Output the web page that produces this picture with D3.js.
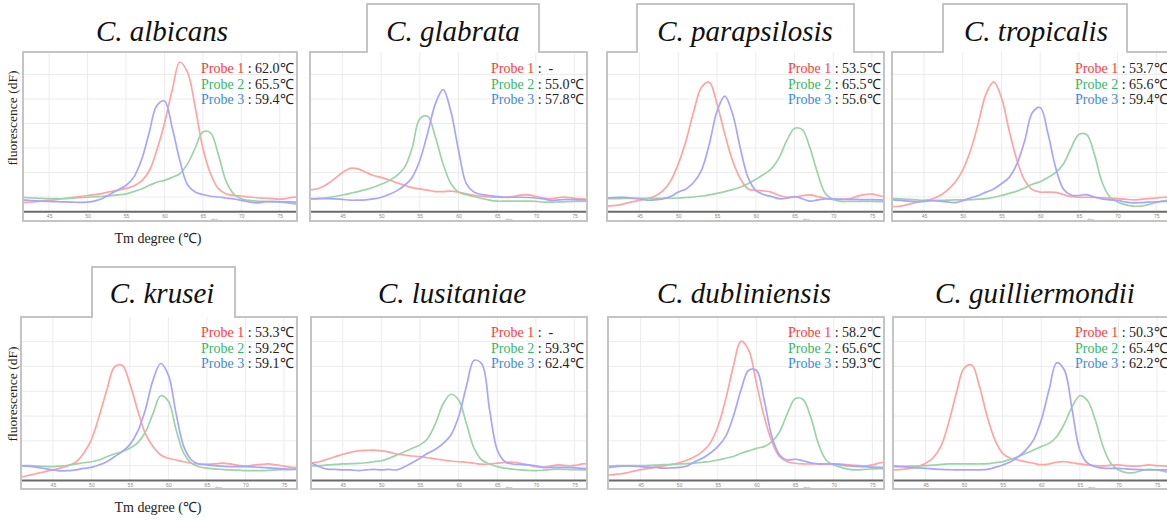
<!DOCTYPE html>
<html>
<head>
<meta charset="utf-8">
<script src="https://cdn.jsdelivr.net/npm/d3@7"></script>
<style>
  body { margin: 0; background: #fff; }
  svg { display: block; }
  text { font-family: 'Liberation Serif', 'Times New Roman', serif; }
</style>
</head>
<body>
<script>
'use strict'

const width = 1167
const height = 521

// melting temperature axis, one point per degree
const temps = [40, 41, 42, 43, 44, 45, 46, 47, 48, 49, 50, 51, 52, 53, 54, 55, 56, 57, 58, 59,
  60, 61, 62, 63, 64, 65, 66, 67, 68, 69, 70, 71, 72, 73, 74, 75, 76, 77, 78]
const xTicks = [45, 50, 55, 60, 65, 70, 75]
const yGrid = [1, 2, 3, 4, 5, 6]

const species = ['C. albicans', 'C. glabrata', 'C. parapsilosis', 'C. tropicalis',
  'C. krusei', 'C. lusitaniae', 'C. dubliniensis', 'C. guilliermondii']
const probeNames = ['Probe 1', 'Probe 2', 'Probe 3']
const probe1Tm = ['62.0', '-', '53.5', '53.7', '53.3', '-', '58.2', '50.3']
const probe2Tm = ['65.5', '55.0', '65.5', '65.6', '59.2', '59.3', '65.6', '65.4']
const probe3Tm = ['59.4', '57.8', '55.6', '59.4', '59.1', '62.4', '59.3', '62.2']

// -dF/dT melt curves
const albicansP1 = [0.76, 0.76, 0.78, 0.8, 0.83, 0.86, 0.9, 0.94, 0.98, 1.02, 1.06, 1.1, 1.15, 1.22, 1.28, 1.35, 1.45, 1.65, 2.05, 2.9, 4.0, 5.35, 6.5, 6.1, 4.67, 3.0, 1.95, 1.35, 1.13, 1.06, 1.04, 1.0, 0.97, 0.95, 0.93, 0.91, 0.95, 1.0, 1.02]
const albicansP2 = [0.99, 0.99, 0.98, 0.96, 0.94, 0.93, 0.93, 0.93, 0.95, 0.97, 0.99, 1.01, 1.03, 1.06, 1.09, 1.13, 1.22, 1.33, 1.47, 1.6, 1.68, 1.8, 1.95, 2.35, 3.0, 3.65, 3.62, 2.75, 1.67, 1.13, 0.93, 0.86, 0.83, 0.82, 0.8, 0.79, 0.76, 0.72, 0.71]
const albicansP3 = [0.88, 0.88, 0.87, 0.85, 0.83, 0.82, 0.81, 0.8, 0.79, 0.78, 0.79, 0.84, 0.95, 1.12, 1.3, 1.47, 1.8, 2.5, 3.6, 4.72, 4.92, 3.85, 2.5, 1.5, 1.2, 1.1, 1.03, 1.0, 0.96, 0.92, 0.86, 0.8, 0.76, 0.8, 0.82, 0.81, 0.8, 0.79, 0.78]

const glabrataP1 = [1.28, 1.3, 1.36, 1.52, 1.75, 2.0, 2.17, 2.15, 2.01, 1.88, 1.8, 1.7, 1.58, 1.48, 1.38, 1.33, 1.28, 1.22, 1.22, 1.24, 1.2, 1.13, 1.07, 1.03, 1.0, 0.99, 0.99, 1.02, 1.08, 1.09, 1.02, 0.96, 0.92, 0.98, 0.99, 0.95, 0.92, 0.9, 0.89]
const glabrataP2 = [0.93, 0.93, 0.94, 0.97, 1.02, 1.08, 1.15, 1.22, 1.3, 1.4, 1.52, 1.66, 1.87, 2.2, 3.0, 4.2, 4.3, 3.45, 2.35, 1.55, 1.2, 1.09, 1.02, 0.94, 0.87, 0.83, 0.83, 0.83, 0.83, 0.83, 0.82, 0.79, 0.79, 0.8, 0.81, 0.82, 0.82, 0.82, 0.82]
const glabrataP3 = [0.92, 0.92, 0.93, 0.93, 0.92, 0.9, 0.87, 0.87, 0.88, 0.92, 0.99, 1.1, 1.25, 1.47, 1.8, 2.5, 3.6, 4.8, 5.38, 4.5, 2.9, 1.55, 1.2, 1.1, 1.06, 1.02, 0.99, 0.99, 0.99, 0.98, 0.96, 0.92, 0.86, 0.88, 0.9, 0.89, 0.88, 0.88, 0.88]

const parapsilosisP1 = [0.61, 0.63, 0.66, 0.72, 0.8, 0.86, 0.94, 1.04, 1.25, 1.65, 2.35, 3.3, 4.5, 5.48, 5.68, 4.8, 3.58, 2.49, 1.75, 1.33, 1.27, 1.25, 1.2, 1.06, 0.99, 0.99, 1.05, 1.09, 1.02, 0.95, 0.9, 0.9, 0.92, 1.02, 1.1, 1.12, 1.05, 1.0, 0.98]
const parapsilosisP2 = [0.93, 0.93, 0.93, 0.94, 0.94, 0.94, 0.94, 0.94, 0.95, 0.95, 0.96, 0.98, 1.0, 1.04, 1.09, 1.15, 1.22, 1.3, 1.4, 1.54, 1.72, 1.92, 2.15, 2.6, 3.3, 3.8, 3.75, 3.0, 1.95, 1.13, 0.9, 0.82, 0.82, 0.82, 0.82, 0.82, 0.81, 0.8, 0.8]
const parapsilosisP3 = [0.97, 0.97, 0.98, 0.99, 0.96, 0.92, 0.87, 0.88, 0.92, 1.02, 1.2, 1.33, 1.6, 2.1, 3.15, 4.5, 5.12, 4.4, 3.0, 1.8, 1.27, 1.1, 1.02, 0.93, 0.95, 1.02, 0.93, 0.83, 0.88, 0.92, 0.92, 0.91, 0.9, 0.9, 0.89, 0.89, 0.88, 0.86, 0.86]

const tropicalisP1 = [0.6, 0.61, 0.63, 0.7, 0.78, 0.85, 0.92, 1.05, 1.27, 1.6, 2.1, 2.9, 4.0, 5.2, 5.7, 5.05, 3.7, 2.5, 1.68, 1.3, 1.2, 1.2, 1.19, 1.1, 1.02, 0.99, 0.99, 0.98, 0.97, 0.95, 0.93, 0.91, 0.88, 0.9, 0.93, 0.96, 0.99, 1.0, 1.0]
const tropicalisP2 = [0.93, 0.93, 0.92, 0.9, 0.88, 0.86, 0.86, 0.86, 0.87, 0.88, 0.88, 0.89, 0.91, 0.93, 0.99, 1.06, 1.15, 1.24, 1.37, 1.52, 1.62, 1.8, 2.0, 2.35, 3.0, 3.55, 3.55, 2.75, 1.6, 1.0, 0.8, 0.69, 0.63, 0.63, 0.69, 0.78, 0.85, 0.88, 0.9]
const tropicalisP3 = [0.88, 0.88, 0.86, 0.83, 0.8, 0.82, 0.85, 0.83, 0.8, 0.77, 0.85, 0.96, 1.06, 1.2, 1.33, 1.54, 1.8, 2.35, 3.3, 4.45, 4.65, 3.6, 2.2, 1.33, 1.08, 1.06, 1.1, 1.0, 0.92, 0.88, 0.86, 0.8, 0.76, 0.77, 0.79, 0.8, 0.82, 0.83, 0.84]

const kruseiP1 = [0.52, 0.55, 0.62, 0.69, 0.76, 0.83, 0.9, 1.0, 1.15, 1.5, 2.05, 2.98, 4.05, 4.98, 5.05, 4.3, 3.25, 2.3, 1.77, 1.43, 1.3, 1.23, 1.16, 1.1, 1.07, 1.06, 1.07, 1.1, 1.07, 1.02, 0.99, 1.02, 1.05, 1.07, 1.03, 0.98, 0.93, 0.92, 0.92]
const kruseiP2 = [1.0, 1.0, 1.0, 0.98, 0.97, 0.96, 0.98, 1.02, 1.07, 1.12, 1.16, 1.23, 1.36, 1.47, 1.57, 1.7, 1.92, 2.35, 3.1, 3.82, 3.6, 2.45, 1.5, 1.1, 0.96, 0.9, 0.87, 0.85, 0.83, 0.82, 0.8, 0.8, 0.8, 0.81, 0.83, 0.84, 0.85, 0.86, 0.86]
const kruseiP3 = [0.99, 0.99, 0.97, 0.93, 0.88, 0.83, 0.79, 0.8, 0.83, 0.89, 0.93, 1.03, 1.16, 1.36, 1.57, 1.85, 2.37, 3.25, 4.45, 5.12, 4.65, 3.1, 1.77, 1.23, 1.07, 1.03, 1.0, 0.98, 0.96, 0.96, 0.96, 0.95, 0.93, 0.91, 0.89, 0.87, 0.85, 0.85, 0.85]

const lusitaniaeP1 = [1.1, 1.12, 1.16, 1.26, 1.36, 1.46, 1.54, 1.6, 1.62, 1.63, 1.6, 1.55, 1.47, 1.43, 1.39, 1.37, 1.32, 1.27, 1.23, 1.19, 1.16, 1.14, 1.1, 1.06, 1.07, 1.1, 1.13, 1.14, 1.1, 1.03, 0.96, 0.93, 0.99, 1.03, 1.0, 1.01, 1.07, 1.08, 1.08]
const lusitaniaeP2 = [0.99, 0.99, 1.0, 1.03, 1.05, 1.07, 1.08, 1.09, 1.12, 1.16, 1.2, 1.3, 1.43, 1.56, 1.7, 1.84, 2.1, 2.7, 3.5, 3.88, 3.65, 2.7, 1.7, 1.23, 1.07, 0.96, 0.9, 0.86, 0.83, 0.81, 0.8, 0.82, 0.85, 0.86, 0.85, 0.84, 0.83, 0.83, 0.83]
const lusitaniaeP3 = [1.14, 1.1, 0.96, 0.86, 0.85, 0.83, 0.83, 0.8, 0.83, 0.85, 0.83, 0.85, 0.83, 0.96, 1.12, 1.3, 1.5, 1.66, 1.9, 2.24, 2.98, 4.2, 5.25, 5.1, 3.25, 1.63, 1.16, 1.07, 1.05, 1.03, 0.99, 0.93, 0.93, 0.93, 0.93, 0.92, 0.89, 0.88, 0.88]

const dubliniensisP1 = [0.61, 0.63, 0.66, 0.7, 0.77, 0.84, 0.89, 0.94, 0.99, 1.05, 1.12, 1.22, 1.36, 1.57, 1.9, 2.57, 3.65, 4.99, 6.02, 5.66, 4.32, 2.98, 1.97, 1.36, 1.16, 1.1, 1.07, 1.07, 1.07, 1.07, 1.07, 1.06, 1.03, 1.01, 0.99, 1.03, 1.12, 1.15, 1.15]
const dubliniensisP2 = [0.99, 0.99, 1.0, 1.0, 1.0, 1.0, 1.01, 1.02, 1.04, 1.05, 1.07, 1.08, 1.1, 1.14, 1.17, 1.23, 1.3, 1.37, 1.5, 1.6, 1.7, 1.77, 1.97, 2.37, 3.1, 3.7, 3.68, 2.98, 1.9, 1.23, 1.03, 0.93, 0.85, 0.83, 0.85, 0.87, 0.88, 0.88, 0.88]
const dubliniensisP3 = [0.92, 0.93, 0.97, 0.99, 0.98, 0.96, 0.94, 0.93, 0.9, 0.91, 0.93, 0.99, 1.16, 1.3, 1.5, 1.77, 2.17, 2.98, 4.05, 4.85, 4.85, 3.65, 2.17, 1.43, 1.23, 1.26, 1.2, 1.12, 1.07, 1.07, 1.07, 1.03, 0.99, 0.97, 0.96, 0.94, 0.93, 0.92, 0.92]

const guilliermondiiP1 = [0.82, 0.83, 0.85, 0.89, 0.97, 1.09, 1.32, 1.78, 2.72, 3.92, 4.93, 5.06, 4.19, 2.98, 2.04, 1.5, 1.3, 1.23, 1.16, 1.1, 1.04, 1.07, 1.14, 1.16, 1.12, 1.07, 1.03, 1.0, 0.99, 1.02, 1.03, 1.0, 0.98, 1.0, 1.03, 1.0, 0.99, 0.98, 0.98]
const guilliermondiiP2 = [0.96, 0.96, 0.97, 0.98, 0.99, 1.0, 1.02, 1.05, 1.07, 1.07, 1.07, 1.07, 1.07, 1.08, 1.12, 1.16, 1.26, 1.36, 1.5, 1.63, 1.77, 1.9, 2.17, 2.7, 3.38, 3.82, 3.62, 2.84, 1.77, 1.1, 0.83, 0.72, 0.72, 0.8, 0.85, 0.83, 0.76, 0.74, 0.74]
const guilliermondiiP3 = [1.0, 0.99, 0.96, 0.93, 0.91, 0.89, 0.87, 0.85, 0.84, 0.83, 0.83, 0.83, 0.83, 0.85, 0.93, 1.03, 1.16, 1.36, 1.63, 2.04, 2.84, 4.05, 5.15, 4.85, 3.25, 1.63, 1.1, 0.96, 0.9, 0.89, 0.89, 0.87, 0.85, 0.84, 0.83, 0.83, 0.83, 0.83, 0.83]

const curves = [
  [albicansP1, albicansP2, albicansP3],
  [glabrataP1, glabrataP2, glabrataP3],
  [parapsilosisP1, parapsilosisP2, parapsilosisP3],
  [tropicalisP1, tropicalisP2, tropicalisP3],
  [kruseiP1, kruseiP2, kruseiP3],
  [lusitaniaeP1, lusitaniaeP2, lusitaniaeP3],
  [dubliniensisP1, dubliniensisP2, dubliniensisP3],
  [guilliermondiiP1, guilliermondiiP2, guilliermondiiP3]
]
const tms = [probe1Tm, probe2Tm, probe3Tm]

// layout
const lineColors = ['#ffa3a3', '#9dd3a8', '#a6a6ff']
const probeColors = ['#ff3b3b', '#35b864', '#3a8cdc']

const rows = [
  { top: 52, bottom: 221, base: 221.5, unit: 24.5, tabTop: 4, titleY: 41, legendY: 73, yLabelY: 118, xLabelY: 243 },
  { top: 317, bottom: 489, base: 490.5, unit: 24.8, tabTop: 267, titleY: 303, legendY: 337, yLabelY: 394, xLabelY: 512 }
]

const panels = [
  { row: 0, left: 23, right: 297, t0: 41.6, t1: 77.25, tab: null, titleX: 162, ylab: true },
  { row: 0, left: 310, right: 587, t0: 40.8, t1: 76.6, tab: [367, 539], titleX: 453 },
  { row: 0, left: 607, right: 884, t0: 40.8, t1: 76.55, tab: [637, 854], titleX: 745 },
  { row: 0, left: 892, right: 1171, t0: 40.86, t1: 76.9, tab: [943, 1127], titleX: 1036 },
  { row: 1, left: 21, right: 297, t0: 40.86, t1: 76.7, tab: [92, 235], titleX: 162, ylab: true },
  { row: 1, left: 311, right: 587, t0: 40.9, t1: 76.6, tab: null, titleX: 452 },
  { row: 1, left: 608, right: 884, t0: 40.8, t1: 76.5, tab: null, titleX: 744 },
  { row: 1, left: 893, right: 1171, t0: 40.8, t1: 76.8, tab: null, titleX: 1035 }
]

const svg = d3.select('body').append('svg')
  .attr('width', width)
  .attr('height', height)

svg.append('rect').attr('width', width).attr('height', height).attr('fill', '#fff')

const defs = svg.append('defs')

panels.forEach(function (p, i) {
  const r = rows[p.row]
  const x = d3.scaleLinear().domain([p.t0, p.t1]).range([p.left, p.right])
  const y = d3.scaleLinear().domain([0, 7]).range([r.base, r.base - 7 * r.unit])
  const axisY = y(0.42)
  const g = svg.append('g')

  // grid
  g.append('g').selectAll('line').data(xTicks).join('line')
    .attr('x1', d => x(d)).attr('x2', d => x(d))
    .attr('y1', r.top).attr('y2', axisY)
    .attr('stroke', '#ececec')
  g.append('g').selectAll('line').data(yGrid).join('line')
    .attr('x1', p.left).attr('x2', p.right)
    .attr('y1', d => y(d)).attr('y2', d => y(d))
    .attr('stroke', '#ececec')

  // x axis
  const ax = g.append('g')
    .attr('transform', 'translate(0,' + axisY + ')')
    .call(d3.axisBottom(x).tickValues(xTicks).tickSize(0).tickPadding(3))
  ax.select('.domain').attr('stroke', '#6a6a6a').attr('stroke-width', 2)
  ax.selectAll('text')
    .attr('font-size', 5)
    .attr('fill', '#888')
    .style('font-family', 'Liberation Sans, sans-serif')
  g.append('text')
    .attr('x', x(66.5)).attr('y', r.bottom - 0.5)
    .attr('font-size', 4).attr('fill', '#999')
    .attr('text-anchor', 'middle')
    .style('font-family', 'Liberation Sans, sans-serif')
    .text('deg')

  // melt curves
  const clipId = 'clip' + i
  defs.append('clipPath').attr('id', clipId).append('rect')
    .attr('x', p.left).attr('y', r.top)
    .attr('width', p.right - p.left).attr('height', axisY - r.top - 1)

  const line = d3.line()
    .x((d, j) => x(temps[j]))
    .y(d => y(d))
    .curve(d3.curveCatmullRom)

  g.append('g').attr('clip-path', 'url(#' + clipId + ')')
    .selectAll('path').data(curves[i]).join('path')
    .attr('d', line)
    .attr('fill', 'none')
    .attr('stroke', (d, k) => lineColors[k])
    .attr('stroke-width', 1.7)

  // frame, with a title tab on some panels
  let outline
  if (p.tab) {
    outline = 'M' + p.left + ',' + r.top + 'H' + p.tab[0] + 'V' + r.tabTop + 'H' + p.tab[1] +
      'V' + r.top + 'H' + p.right + 'V' + r.bottom + 'H' + p.left + 'Z'
  } else {
    outline = 'M' + p.left + ',' + r.top + 'H' + p.right + 'V' + r.bottom + 'H' + p.left + 'Z'
  }
  g.append('path')
    .attr('d', outline)
    .attr('fill', 'none')
    .attr('stroke', '#c4c4c4')
    .attr('stroke-width', 1.2)
    .attr('shape-rendering', 'crispEdges')

  // title
  g.append('text')
    .attr('x', p.titleX).attr('y', r.titleY)
    .attr('text-anchor', 'middle')
    .attr('font-size', 29)
    .attr('font-style', 'italic')
    .attr('fill', '#111')
    .text(species[i])

  // probe Tm legend
  const leg = g.append('g').selectAll('text').data(probeNames).join('text')
    .attr('x', p.right - 96)
    .attr('y', (d, k) => r.legendY + k * 15.7)
    .attr('font-size', 14)
  leg.append('tspan').attr('fill', (d, k) => probeColors[k]).text(d => d)
  leg.append('tspan').attr('fill', '#222')
    .text((d, k) => {
      const v = tms[k][i]
      return v === '-' ? ' :\u00a0\u00a0-' : ' : ' + v + '\u2103'
    })

  if (p.ylab) {
    g.append('text')
      .attr('transform', 'translate(' + 17 + ',' + r.yLabelY + ') rotate(-90)')
      .attr('text-anchor', 'middle')
      .attr('font-size', 13.5)
      .attr('fill', '#222')
      .text('fluorescence (dF)')
    g.append('text')
      .attr('x', 158).attr('y', r.xLabelY)
      .attr('text-anchor', 'middle')
      .attr('font-size', 14)
      .attr('fill', '#222')
      .text('Tm degree (\u2103)')
  }
})
</script>
</body>
</html>
